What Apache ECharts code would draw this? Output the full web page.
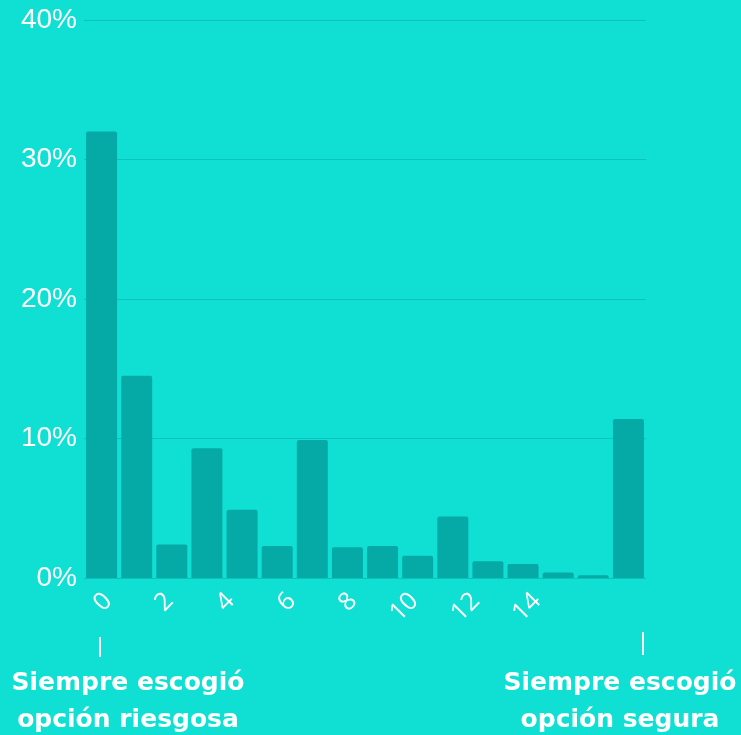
<!DOCTYPE html>
<html>
<head>
<meta charset="utf-8">
<script src="https://cdn.jsdelivr.net/npm/echarts@6/dist/echarts.min.js"></script>
<style>
html, body { margin: 0; padding: 0; background: #10dfd4; }
#main { width: 741px; height: 735px; }
</style>
</head>
<body>
<div id="main"></div>
<script>
// número de veces que escogió la opción segura
var categories = ['0','1','2','3','4','5','6','7','8','9','10','11','12','13','14','15'];
// porcentaje de participantes
var values = [32, 14.5, 2.4, 9.3, 4.9, 2.3, 9.9, 2.2, 2.3, 1.6, 4.4, 1.2, 1.0, 0.4, 0.2, 11.4];
// etiquetas del eje x (solo pares)
var tickLabels = [0, 2, 4, 6, 8, 10, 12, 14];
var yTicks = [0, 10, 20, 30, 40];

var bg = '#10dfd4';
var barColor = '#05aaa6';
var gridColor = '#0bc3bc';

var myChart = echarts.init(document.getElementById('main'));
var option = {
	backgroundColor: bg,
	animation: false,
	grid: [
		{ left: 84, right: 95, top: 20, bottom: 157 },
		{ left: 108, right: 204, top: 20, bottom: 157 }
	],
	xAxis: [
		{
			type: 'category',
			gridIndex: 0,
			data: categories,
			axisLine: { show: false },
			axisTick: { show: false },
			axisLabel: { show: false }
		},
		{
			type: 'value',
			gridIndex: 1,
			min: tickLabels[0],
			max: tickLabels[tickLabels.length - 1],
			interval: 2,
			axisLine: { show: false },
			axisTick: { show: false },
			splitLine: { show: false },
			axisLabel: {
				rotate: 45,
				margin: 19,
				color: '#ffffff',
				fontSize: 25,
				fontFamily: 'Open Sans'
			}
		}
	],
	yAxis: [
		{
			type: 'value',
			gridIndex: 0,
			min: yTicks[0],
			max: yTicks[yTicks.length - 1],
			interval: 10,
			axisLine: { show: false },
			axisTick: { show: false },
			splitLine: { lineStyle: { color: gridColor, width: 1 } },
			axisLabel: {
				margin: 7,
				color: '#ffffff',
				fontSize: 28,
				fontFamily: 'Liberation Sans',
				formatter: '{value}%'
			}
		},
		{
			type: 'value',
			gridIndex: 1,
			show: false
		}
	],
	series: [
		{
			type: 'bar',
			xAxisIndex: 0,
			yAxisIndex: 0,
			data: values,
			barWidth: 31,
			itemStyle: { color: barColor, borderRadius: [2, 2, 0, 0] }
		}
	],
	graphic: [
		{
			type: 'rect',
			shape: { x: 99, y: 637, width: 2, height: 20 },
			style: { fill: '#ffffff' }
		},
		{
			type: 'rect',
			shape: { x: 642, y: 632, width: 2, height: 23 },
			style: { fill: '#ffffff' }
		},
		{
			type: 'text',
			x: 128,
			y: 665,
			style: {
				text: 'Siempre escogió\nopción riesgosa',
				textAlign: 'center',
				fill: '#ffffff',
				font: 'bold 25px "DejaVu Sans"',
				lineHeight: 37
			}
		},
		{
			type: 'text',
			x: 620,
			y: 665,
			style: {
				text: 'Siempre escogió\nopción segura',
				textAlign: 'center',
				fill: '#ffffff',
				font: 'bold 25px "DejaVu Sans"',
				lineHeight: 37
			}
		}
	]
};
myChart.setOption(option);
</script>
</body>
</html>
